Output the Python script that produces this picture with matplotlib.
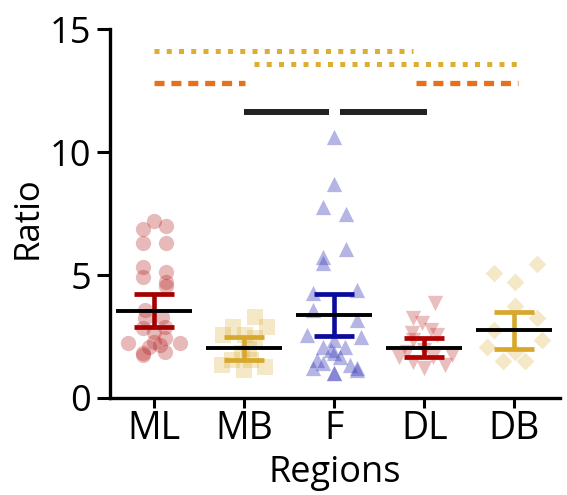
import matplotlib
matplotlib.use('Agg')
import matplotlib.pyplot as plt

plt.rcParams['font.family'] = ['Open Sans', 'DejaVu Sans']

# Categories
regions = ['ML', 'MB', 'F', 'DL', 'DB']

# Individual values (ratio) and horizontal jitter
ml_vals = [7.21, 6.86, 6.99, 6.29, 6.31, 5.34, 4.93, 5.13, 4.73, 4.55,
           3.58, 3.24, 3.31, 2.83, 2.90, 2.22, 1.81, 1.75, 2.29, 2.09,
           2.15, 1.88, 2.22, 2.70, 2.45]
ml_jit = [0.0, -0.12, 0.13, -0.12, 0.13, -0.12, -0.12, 0.13, 0.13, 0.13,
          -0.10, -0.10, 0.09, -0.12, 0.12, -0.29, -0.12, -0.12, 0.0, -0.06,
          0.06, 0.12, 0.29, 0.0, 0.12]

mb_vals = [3.30, 2.90, 2.90, 2.56, 2.56, 2.45, 1.81, 1.54, 1.54, 1.34,
           1.14, 1.27, 2.0]
mb_jit = [0.12, 0.25, -0.12, -0.23, 0.01, 0.12, -0.02, -0.14, 0.08, -0.25,
          0.0, 0.23, 0.05]

f_vals = [10.62, 8.70, 7.78, 7.48, 6.04, 5.74, 5.50, 4.25, 4.39, 3.58,
          3.17, 2.56, 2.49, 2.36, 2.09, 2.09, 1.95, 1.83, 1.68, 1.54,
          1.42, 1.34, 1.20, 1.20, 1.14, 1.0, 1.0]
f_jit = [0.0, 0.0, -0.12, 0.13, 0.13, -0.12, -0.12, -0.24, 0.25, -0.24,
         0.25, -0.30, 0.30, 0.0, -0.12, 0.12, -0.03, 0.0, 0.07, -0.19,
         -0.12, 0.18, -0.23, 0.25, 0.25, 0.0, 0.0]

dl_vals = [3.85, 3.24, 3.04, 2.63, 2.76, 2.56, 2.36, 1.68, 1.75, 1.48,
           1.20, 1.34, 1.88, 1.68, 1.95]
dl_jit = [0.12, -0.12, -0.03, -0.14, 0.07, 0.14, -0.12, -0.28, 0.31, -0.12,
          0.0, 0.23, -0.19, 0.10, 0.0]

db_vals = [5.47, 5.10, 4.73, 3.75, 3.24, 2.76, 2.36, 2.09, 1.88, 1.50, 1.50]
db_jit = [0.25, -0.23, 0.01, 0.01, 0.25, -0.23, 0.31, -0.30, 0.01, -0.12, 0.12]

# Mean and error
means = [3.55, 2.03, 3.38, 2.05, 2.76]
errs = [0.67, 0.47, 0.84, 0.37, 0.75]

# Significance lines: y level, start and end category positions
sig_y = [14.1, 13.58, 12.8, 12.8, 11.63, 11.63]
sig_x0 = [0.0, 1.11, 0.0, 2.91, 1.0, 2.07]
sig_x1 = [2.87, 4.04, 1.01, 4.04, 1.94, 3.03]
sig_kind = ['dot', 'dot', 'dash', 'dash', 'solid', 'solid']

groups = [ml_vals, mb_vals, f_vals, dl_vals, db_vals]
jitters = [ml_jit, mb_jit, f_jit, dl_jit, db_jit]
markers = ['o', 's', '^', 'v', 'D']
msizes = [11, 11, 11, 11, 9]
pt_colors = ['#b21a1a', '#d9ad35', '#3b3bbb', '#c0282a', '#d9ad35']
pt_alpha = [0.3, 0.28, 0.38, 0.3, 0.28]
bar_colors = ['#a50000', '#d7a82c', '#0b0b9e', '#b00000', '#d7a82c']

fig = plt.figure(figsize=(5.67, 4.95), dpi=100)
ax = fig.add_axes([0.194, 0.196, 0.794, 0.745])

for i, (vals, jit) in enumerate(zip(groups, jitters)):
    xs = [i + j for j in jit]
    ax.scatter(xs, vals, marker=markers[i], s=msizes[i] ** 2,
               color=pt_colors[i], alpha=pt_alpha[i], linewidths=0, zorder=2)
    # error bar
    ax.vlines(i, means[i] - errs[i], means[i] + errs[i],
              color=bar_colors[i], lw=3.3, zorder=3)
    ax.hlines([means[i] - errs[i], means[i] + errs[i]], i - 0.22, i + 0.22,
              color=bar_colors[i], lw=3.4, zorder=3)
    # mean
    ax.hlines(means[i], i - 0.42, i + 0.42, color='black', lw=2.8, zorder=4)

for y, x0, x1, kind in zip(sig_y, sig_x0, sig_x1, sig_kind):
    if kind == 'dot':
        ax.plot([x0, x1], [y, y], color='#dcae33', lw=3.6,
                dashes=(1.0, 1.45), solid_capstyle='butt')
    elif kind == 'dash':
        ax.plot([x0, x1], [y, y], color='#e8701a', lw=3.8,
                dashes=(1.9, 1.3), solid_capstyle='butt')
    else:
        ax.plot([x0, x1], [y, y], color='#222222', lw=4.3,
                solid_capstyle='butt')

ax.set_xlim(-0.49, 4.51)
ax.set_ylim(0, 15)
ax.set_yticks([0, 5, 10, 15])
ax.set_xticks(range(len(regions)))
ax.set_xticklabels(regions)
ax.spines['top'].set_visible(False)
ax.spines['right'].set_visible(False)
for s in ['left', 'bottom']:
    ax.spines[s].set_linewidth(2.4)
ax.tick_params(axis='y', length=9.5, width=2.2, labelsize=26, pad=4)
ax.tick_params(axis='x', length=7, width=2.2, labelsize=27, pad=2)
ax.set_ylabel('Ratio', fontsize=25)
ax.yaxis.set_label_coords(-0.145, 0.49)
ax.set_xlabel('Regions', fontsize=26, labelpad=5)

plt.savefig('out.png', dpi=100)
